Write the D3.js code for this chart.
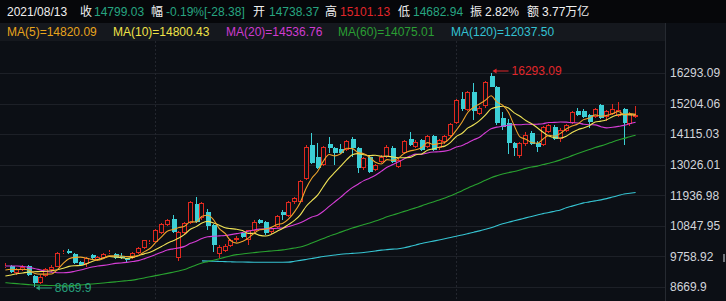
<!DOCTYPE html>
<html><head><meta charset="utf-8">
<script src="https://cdn.jsdelivr.net/npm/d3@7"></script>
<style>
html,body{margin:0;padding:0;background:#0c0f15;overflow:hidden}
svg{display:block}
text{font-family:"Liberation Sans",Arial,"Noto Sans CJK SC",sans-serif}
</style></head><body>
<svg id="c" width="726" height="301"></svg>
<script>
// ---------- data (weekly candles) ----------
const dates = [
"2019-07-05","2019-07-12","2019-07-19","2019-07-26","2019-08-02","2019-08-09","2019-08-16","2019-08-23","2019-08-30","2019-09-06",
"2019-09-13","2019-09-20","2019-09-27","2019-09-30","2019-10-11","2019-10-18","2019-10-25","2019-11-01","2019-11-08","2019-11-15",
"2019-11-22","2019-11-29","2019-12-06","2019-12-13","2019-12-20","2019-12-27","2020-01-03","2020-01-10","2020-01-17","2020-01-23",
"2020-02-07","2020-02-14","2020-02-21","2020-02-28","2020-03-06","2020-03-13","2020-03-20","2020-03-27","2020-04-03","2020-04-10",
"2020-04-17","2020-04-24","2020-04-30","2020-05-08","2020-05-15","2020-05-22","2020-05-29","2020-06-05","2020-06-12","2020-06-19",
"2020-06-24","2020-07-03","2020-07-10","2020-07-17","2020-07-24","2020-07-31","2020-08-07","2020-08-14","2020-08-21","2020-08-28",
"2020-09-04","2020-09-11","2020-09-18","2020-09-25","2020-09-30","2020-10-09","2020-10-16","2020-10-23","2020-10-30","2020-11-06",
"2020-11-13","2020-11-20","2020-11-27","2020-12-04","2020-12-11","2020-12-18","2020-12-25","2020-12-31","2021-01-08","2021-01-15",
"2021-01-22","2021-01-29","2021-02-05","2021-02-10","2021-02-19","2021-02-26","2021-03-05","2021-03-12","2021-03-19","2021-03-26",
"2021-04-02","2021-04-09","2021-04-16","2021-04-23","2021-04-30","2021-05-07","2021-05-14","2021-05-21","2021-05-28","2021-06-04",
"2021-06-11","2021-06-18","2021-06-25","2021-07-02","2021-07-09","2021-07-16","2021-07-23","2021-07-30","2021-08-06","2021-08-13"];

const opens = [
9400,9420,9180,9290,9420,9060,8830,9060,9260,9400,
9890,9960,9850,9560,9500,9800,9630,9700,9880,9850,
9760,9690,9700,9880,10060,10270,10290,10590,10880,11110,
9700,10600,10960,11640,11140,11350,10870,9830,9960,10140,
10330,10600,10350,10660,11050,10990,10620,10800,11350,11200,
11680,11710,12500,13730,13310,13020,13760,13620,13590,13550,
13940,13620,12900,13310,12840,13130,13310,13630,12960,13430,
13930,13670,13900,13670,14050,13610,13850,14050,14500,15350,
14980,15620,14850,15100,16190,15810,14690,14520,13800,13320,
13750,14150,13810,13730,14200,14380,13950,14240,14520,14950,
14950,14800,14730,15150,14730,14850,14770,15000,14470,14738.37];

const highs = [
9510,9450,9360,9440,9460,9080,9080,9360,9450,9920,
9990,10020,9870,9580,9730,9850,9780,9880,10000,9880,
9880,9720,9920,10080,10360,10330,10720,10950,11100,11240,
10680,10990,11720,11880,11700,11450,10900,10180,10190,10380,
10480,10640,10710,11060,11100,11020,10800,11230,11400,11730,
11870,12480,13720,14140,13810,13700,14010,13660,13760,13920,
14000,13650,13300,13340,13060,13360,13720,13700,13280,13920,
14200,13900,13950,14100,14080,13950,14090,14500,15380,15600,
15660,15920,15120,16000,16293.09,15830,14910,14650,13850,13850,
14180,14230,13870,14420,14480,14450,14320,14480,14950,15050,
15000,14850,15040,15200,14990,15180,15250,15050,14900,15101.13];

const lows = [
9330,9170,9110,9250,9060,8669.9,8760,9040,9200,9380,
9860,9830,9480,9420,9400,9650,9600,9660,9840,9680,
9650,9560,9660,9860,10040,10200,10260,10560,10850,10600,
9600,10540,10930,10950,11050,10700,9900,9720,9900,10080,
10280,10400,10170,10600,10900,10520,10560,10780,11050,11150,
11640,11680,12480,13050,12880,12980,13440,13020,13400,13500,
13310,12730,12850,12740,12800,13100,13280,13100,12900,13400,
13700,13620,13500,13620,13500,13560,13750,14000,14480,14950,
14950,14620,14800,15050,15780,14450,14260,13400,13320,13280,
13700,13720,13480,13700,14150,13900,13850,14180,14480,14750,
14700,14320,14700,14640,14600,14800,14720,13730,14400,14682.94];

const closes = [
9420,9200,9300,9380,9100,8830,9040,9300,9400,9880,
9920,9890,9530,9450,9700,9700,9740,9850,9900,9700,
9690,9630,9890,10060,10340,10290,10700,10900,11050,10640,
10640,10950,11690,11000,11660,10830,10150,10110,10140,10330,
10430,10460,10700,11000,10940,10580,10760,11200,11240,11700,
11830,12450,13670,13080,12900,13670,13620,13440,13440,13880,
13620,12900,13260,12780,13020,13310,13670,13130,13190,13880,
13730,13850,13550,14050,13550,13900,14050,14470,15330,15000,
15620,14950,15060,15980,15800,14520,14380,13800,13610,13790,
14100,13780,13660,14380,14440,13950,14280,14440,14910,14800,
14730,14560,15000,14680,14950,15010,14960,14500,14830,14799.03];

// moving-average values at the left edge (before a full window exists)
const ma5Lead  = [9275,9300,9290,9300];
const ma10Lead = [9060,9100,9140,9170,9200,9215,9220,9230,9250];
const ma20Lead = [9418,9418,9418,9400,9370,9330,9280,9230,9200,9180,9180,9190,9230,9275,9330,9380,9420,9440,9470];
const ma60Lead = [
8823,8806,8790,8773,8756,8740,8734,8728,8722,8716,
8710,8709,8726,8743,8760,8777,8794,8813,8834,8854,
8875,8895,8916,8953,8993,9033,9074,9114,9155,9198,
9240,9293,9375,9456,9526,9575,9623,9675,9730,9786,
9823,9846,9870,9893,9916,9937,9955,9972,9992,10025,
10059,10093,10160,10240,10320,10400,10480,10550,10625];
// MA(120) (starts in March 2020)
const ma120 = [
null,null,null,null,null,null,null,null,null,null,
null,null,null,null,null,null,null,null,null,null,
null,null,null,null,null,null,null,null,null,null,
null,null,null,null,
9600,9593,9586,9580,9573,9567,9562,9558,9555,9552,
9550,9550,9550,9550,9550,9555,9586,9617,9651,9686,
9721,9754,9782,9810,9837,9855,9868,9881,9899,9927,
9955,9983,10002,10018,10035,10067,10118,10169,10221,10264,
10305,10346,10389,10434,10478,10522,10571,10622,10670,10725,
10783,10852,10921,10977,11028,11080,11133,11183,11234,11285,
11325,11370,11415,11490,11551,11610,11667,11703,11739,11774,
11818,11873,11927,11982,12010,12037.5];

const tickLabels = ["16293.09","15204.06","14115.03","13026.01","11936.98","10847.95","9758.92","8669.9"];

const headDate = "2021/08/13";
const headLabels = ["收","幅","开","高","低","振","额"];
const headValues = ["14799.03","-0.19%[-28.38]","14738.37","15101.13","14682.94","2.82%","3.77万亿"];
const headKinds  = ["down","down","down","up","down","plain","plain"];

const maNames  = ["MA(5)","MA(10)","MA(20)","MA(60)","MA(120)"];
const maValues = ["14820.09","14800.43","14536.76","14075.01","12037.50"];

// ---------- derived ----------
function movingAverage(vals, n, lead){
  return vals.map((v,i)=> i < n-1 ? lead[i] : d3.mean(vals.slice(i-n+1, i+1)));
}
const ma5  = movingAverage(closes, 5, ma5Lead);
const ma10 = movingAverage(closes, 10, ma10Lead);
const ma20 = movingAverage(closes, 20, ma20Lead);
const ma60 = movingAverage(closes, 60, ma60Lead);

const candles = dates.map((d,i)=>({d, o:opens[i], h:highs[i], l:lows[i], c:closes[i]}));

// ---------- style / layout ----------
const W = 726, H = 301;
const BG = "#0c0f15";
const UP = "#e0291f", DOWN = "#3ccfd6";
const maLineColors = ["#efa52c","#f0e357","#d63ed6","#29a230","#36c4d2"];
const maTextColors = ["#e8a41c","#f0e247","#cf3bcf","#2a9e33","#33c2d3"];
const plotRight = 665, plotTop = 41;

const svg = d3.select("#c");
svg.append("rect").attr("width",W).attr("height",H).attr("fill",BG);
svg.append("rect").attr("x",0).attr("y",0).attr("width",W).attr("height",23).attr("fill","#06070a");
svg.append("rect").attr("x",0).attr("y",23).attr("width",plotRight).attr("height",18).attr("fill","#15181e");

const x = d3.scalePoint().domain(dates).range([2, 638]).padding(0.5);
const yVals = tickLabels.map(Number);
const y = d3.scaleLinear().domain([d3.min(yVals), d3.max(yVals)]).range([287, 73]);

// grid
const grid = svg.append("g").attr("shape-rendering","crispEdges");
grid.selectAll("line.h").data(yVals).join("line")
  .attr("x1",0).attr("x2",plotRight)
  .attr("y1",v=>Math.round(y(v))+0.5).attr("y2",v=>Math.round(y(v))+0.5)
  .attr("stroke","#1d2027");
const yearStarts = dates.filter((d,i)=> i>0 && d.slice(0,4)!==dates[i-1].slice(0,4));
grid.selectAll("line.v").data(yearStarts).join("line")
  .attr("x1",d=>Math.round(x(d))+0.5).attr("x2",d=>Math.round(x(d))+0.5)
  .attr("y1",plotTop).attr("y2",H)
  .attr("stroke","#23262e").attr("stroke-dasharray","2,2");
svg.append("line").attr("x1",plotRight+0.5).attr("x2",plotRight+0.5).attr("y1",23).attr("y2",H)
  .attr("stroke","#262a31");

// clip
svg.append("clipPath").attr("id","pc").append("rect")
  .attr("x",0).attr("y",plotTop).attr("width",plotRight).attr("height",H-plotTop);
const plot = svg.append("g").attr("clip-path","url(#pc)");

// candles
const cg = plot.append("g").attr("shape-rendering","crispEdges");
candles.forEach(k=>{
  const cx = Math.round(x(k.d));
  const up = k.c >= k.o;
  const top = Math.round(y(Math.max(k.o,k.c)));
  const bot = Math.round(y(Math.min(k.o,k.c)));
  const hi = Math.round(y(k.h)), lo = Math.round(y(k.l));
  const col = up ? UP : DOWN;
  const hgt = Math.max(bot-top,1);
  // wick segments
  cg.append("line").attr("x1",cx+0.5).attr("x2",cx+0.5).attr("y1",hi).attr("y2",top).attr("stroke",col);
  cg.append("line").attr("x1",cx+0.5).attr("x2",cx+0.5).attr("y1",top+hgt).attr("y2",lo).attr("stroke",col);
  if (up) {
    cg.append("rect").attr("x",cx-1.5).attr("y",top+0.5).attr("width",4).attr("height",Math.max(hgt-1,0))
      .attr("fill",BG).attr("stroke",col).attr("stroke-width",1);
  } else {
    cg.append("rect").attr("x",cx-1).attr("y",top).attr("width",5).attr("height",hgt).attr("fill",col);
  }
});

// moving averages
const maSeries = [ma120, ma60, ma20, ma10, ma5];
const maCols = [maLineColors[4],maLineColors[3],maLineColors[2],maLineColors[1],maLineColors[0]];
const line = d3.line().defined(d=>d.v!=null).x(d=>x(d.d)+0.5).y(d=>y(d.v)).curve(d3.curveMonotoneX);
maSeries.forEach((s,j)=>{
  plot.append("path").datum(dates.map((d,i)=>({d, v:s[i]})))
    .attr("d",line).attr("fill","none").attr("stroke",maCols[j]).attr("stroke-width",1.1);
});

// high / low markers
const iMax = d3.maxIndex(highs), iMin = d3.minIndex(lows);
function marker(i, val, txt, color){
  const cx = x(dates[i]) + 2, yy = y(val) - (i===iMax ? 2 : -1);
  const g = svg.append("g");
  g.append("line").attr("x1",cx+1).attr("x2",cx+16).attr("y1",yy).attr("y2",yy).attr("stroke",color).attr("stroke-width",1);
  g.append("path").attr("d",`M${cx},${yy} l4,-2.5 l0,5 z`).attr("fill",color);
  g.append("text").attr("x",cx+19).attr("y",yy).attr("dy","0.36em").attr("font-size",12).attr("fill",color).text(txt);
}
marker(iMax, highs[iMax], tickLabels[0], "#e0262a");
marker(iMin, lows[iMin], tickLabels[tickLabels.length-1], "#27a07c");

// right axis labels
svg.append("g").selectAll("text").data(tickLabels).join("text")
  .attr("x",670).attr("y",t=>y(+t)).attr("dy","0.36em")
  .attr("font-size",12).attr("fill","#d2d5db").text(t=>t);
svg.append("rect").attr("x",723).attr("y",254).attr("width",2).attr("height",8).attr("fill","#6f737a");

// header row 1
const hg = svg.append("g").attr("font-size",12);
const VAL_UP = "#e0262a", VAL_DOWN = "#27a581", PLAIN = "#f0f0f0";
hg.append("text").attr("x",7).attr("y",15.5).attr("fill",PLAIN).text(headDate);
const labelX = [80,151,253,325,398,470,527];
const valueX = [94,166,269,340,413,485,542];
headLabels.forEach((lab,i)=>{
  hg.append("text").attr("x",labelX[i]).attr("y",15.5).attr("fill",PLAIN).text(lab);
  const kind = headKinds[i];
  hg.append("text").attr("x",valueX[i]).attr("y",15.5)
    .attr("fill", kind==="up"?VAL_UP:kind==="down"?VAL_DOWN:PLAIN).text(headValues[i]);
});

// header row 2 (MA legend)
const legX = [7,113,226,338,451];
maNames.forEach((n,i)=>{
  hg.append("text").attr("x",legX[i]).attr("y",36).attr("fill",maTextColors[i]).text(n+"="+maValues[i]);
});
</script>
</body></html>
